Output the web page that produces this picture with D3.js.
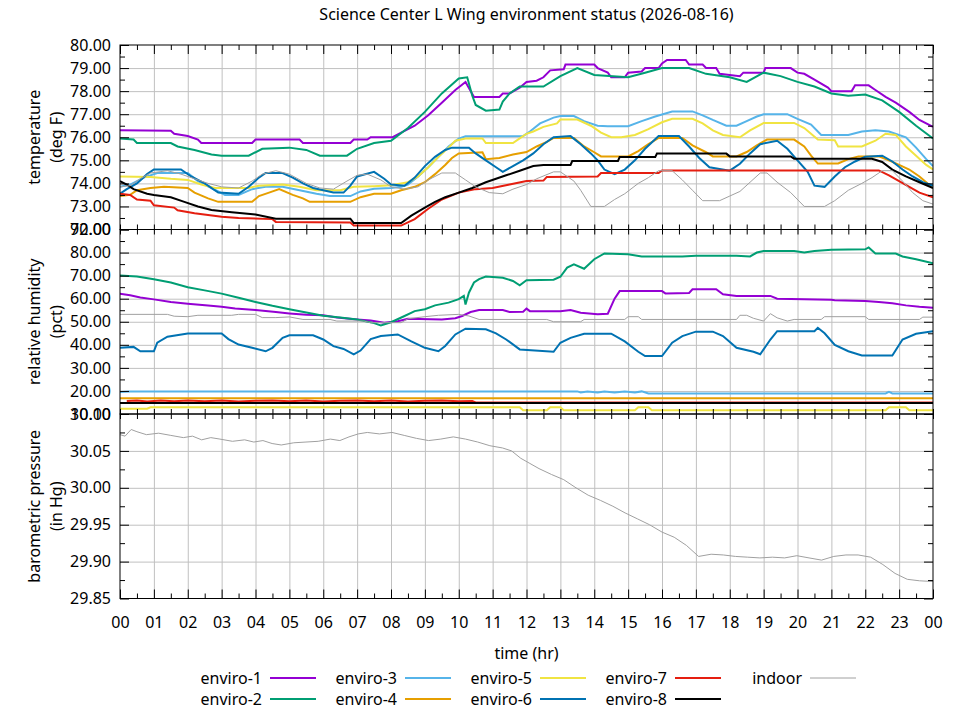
<!DOCTYPE html>
<html>
<head>
<meta charset="utf-8">
<script src="https://cdn.jsdelivr.net/npm/d3@7"></script>
<style>
  body { margin: 0; background: #fff; }
  svg { font-family: "Noto Sans", sans-serif; }
</style>
</head>
<body>
<svg id="drawing_region"></svg>
<script>
// ---- data: [hour, value] pairs ----
const titleText = "Science Center L Wing environment status (2026-08-16)";
const seriesNames = ["enviro-1","enviro-2","enviro-3","enviro-4","enviro-5","enviro-6","enviro-7","enviro-8","indoor"];
const seriesColors = ["#9400d3","#009e73","#56b4e9","#e69f00","#f0e442","#0072b2","#e51e10","#000000","#a0a0a0"];

const hourTicks = [0,1,2,3,4,5,6,7,8,9,10,11,12,13,14,15,16,17,18,19,20,21,22,23,24];
const tempTicks = [72,73,74,75,76,77,78,79,80];
const humidTicks = [10,20,30,40,50,60,70,80,90];
const pressTicks = [29.85,29.90,29.95,30.00,30.05,30.10];

// temperature (deg F)
const temp1 = [[0,76.3],[1.5,76.28],[1.6,76.15],[2.0,76.05],[2.3,75.9],[2.4,75.75],[3.9,75.75],[4.0,75.9],[5.3,75.9],[5.4,75.75],[6.8,75.75],[6.9,75.9],[7.3,75.9],[7.4,76.0],[8.05,76.0],[8.3,76.2],[8.7,76.5],[9.1,76.95],[9.5,77.5],[9.9,78.05],[10.2,78.4],[10.35,78.0],[10.45,77.75],[11.2,77.75],[11.3,77.9],[11.5,77.9],[11.8,78.15],[12.0,78.4],[12.3,78.45],[12.5,78.6],[12.7,78.9],[13.1,78.95],[13.15,79.15],[14.0,79.15],[14.1,79.0],[14.4,78.8],[14.5,78.6],[14.9,78.6],[15.0,78.8],[15.4,78.85],[15.5,79.0],[15.9,79.0],[16.0,79.2],[16.15,79.35],[16.7,79.35],[16.8,79.15],[17.2,79.15],[17.3,79.0],[17.6,79.0],[17.7,78.75],[18.3,78.65],[18.4,78.8],[19.0,78.8],[19.05,79.0],[19.8,79.0],[20.0,78.8],[20.2,78.75],[20.5,78.5],[20.9,78.15],[21.0,78.0],[21.6,78.0],[21.7,78.25],[22.1,78.25],[22.3,78.05],[22.6,77.75],[22.9,77.5],[23.3,77.1],[23.6,76.75],[24,76.45]];
const temp2 = [[0,75.95],[0.4,75.9],[0.5,75.75],[1.5,75.75],[1.7,75.6],[2.2,75.45],[2.7,75.25],[3.0,75.2],[3.8,75.2],[4.2,75.5],[5.0,75.55],[5.5,75.45],[5.9,75.2],[6.7,75.2],[7.0,75.5],[7.5,75.75],[8.0,75.85],[8.5,76.4],[9.0,77.1],[9.5,77.9],[10.0,78.55],[10.25,78.6],[10.4,77.8],[10.5,77.4],[10.8,77.15],[11.2,77.2],[11.3,77.55],[11.5,77.9],[11.8,78.2],[12.5,78.2],[13.0,78.65],[13.5,79.0],[14.0,78.7],[15.0,78.6],[15.5,78.8],[16.0,79.0],[16.8,79.0],[17.3,78.75],[18.0,78.6],[18.5,78.4],[19.0,78.8],[19.5,78.65],[20.0,78.4],[20.5,78.2],[21.0,77.9],[21.5,77.8],[22.0,77.85],[22.5,77.6],[23.0,77.1],[23.5,76.5],[24,75.95]];
const temp3 = [[0,73.85],[0.3,73.95],[0.7,74.25],[1.1,74.45],[2.0,74.45],[2.3,74.1],[2.7,73.8],[3.1,73.5],[3.5,73.5],[3.9,73.75],[4.3,73.85],[4.8,73.85],[5.3,73.7],[5.8,73.55],[6.2,73.45],[6.8,73.45],[7.1,73.65],[7.5,73.77],[8.0,73.8],[8.3,73.85],[8.5,73.95],[8.8,74.3],[9.1,74.7],[9.4,75.15],[9.7,75.6],[10.0,75.94],[10.2,76.04],[11.9,76.05],[12.1,76.25],[12.4,76.6],[12.8,76.85],[13.0,76.92],[13.4,76.92],[13.7,76.7],[14.1,76.5],[14.4,76.48],[15.0,76.48],[15.4,76.7],[15.8,76.9],[16.3,77.12],[16.9,77.12],[17.2,76.95],[17.5,76.75],[17.9,76.5],[18.2,76.5],[18.5,76.7],[18.8,76.9],[19.0,77.0],[19.7,77.0],[20.0,76.8],[20.4,76.55],[20.7,76.1],[21.5,76.1],[21.9,76.25],[22.3,76.3],[22.7,76.25],[23.2,76.0],[23.5,75.55],[23.8,75.05],[24,74.75]];
const temp4 = [[0,73.45],[0.3,73.5],[0.5,73.7],[0.9,73.8],[1.3,73.85],[2.0,73.8],[2.2,73.6],[2.6,73.35],[2.9,73.2],[3.9,73.2],[4.1,73.45],[4.4,73.6],[4.7,73.75],[5.1,73.5],[5.4,73.35],[5.6,73.2],[6.8,73.2],[7.1,73.4],[7.5,73.55],[8.0,73.55],[8.3,73.7],[8.7,73.85],[9.0,74.05],[9.3,74.4],[9.6,74.8],[9.8,75.1],[10.0,75.3],[10.7,75.35],[10.8,75.05],[11.2,75.1],[11.6,75.25],[12.0,75.36],[12.3,75.6],[12.6,75.8],[12.8,75.97],[13.4,75.97],[13.7,75.6],[14.0,75.35],[14.2,75.17],[15.0,75.17],[15.3,75.4],[15.6,75.7],[15.9,75.97],[16.6,75.97],[16.9,75.65],[17.3,75.35],[17.5,75.17],[18.2,75.17],[18.5,75.36],[18.8,75.65],[19.1,75.9],[19.9,75.9],[20.2,75.6],[20.4,75.2],[20.6,74.86],[21.2,74.86],[21.5,75.05],[21.8,75.17],[22.4,75.17],[22.7,75.0],[23.0,74.8],[23.3,74.6],[23.6,74.3],[24,73.8]];
const temp5 = [[0,74.3],[0.9,74.28],[1.5,74.2],[2.0,74.15],[2.4,73.95],[2.8,73.8],[3.8,73.8],[4.1,73.9],[4.8,73.95],[5.3,73.85],[5.8,73.7],[6.5,73.7],[6.9,73.85],[7.5,73.88],[8.0,73.92],[8.5,74.05],[8.8,74.3],[9.1,74.7],[9.4,75.15],[9.7,75.55],[9.9,75.85],[10.2,75.95],[10.7,75.95],[10.8,75.75],[11.6,75.75],[11.8,75.95],[12.0,76.15],[12.2,76.25],[12.5,76.45],[12.9,76.6],[13.0,76.77],[13.5,76.77],[13.9,76.5],[14.2,76.2],[14.5,76.0],[14.8,76.0],[15.2,76.1],[15.6,76.35],[16.0,76.65],[16.3,76.8],[16.9,76.8],[17.2,76.6],[17.5,76.3],[17.8,76.1],[18.3,76.0],[18.6,76.3],[19.0,76.62],[19.9,76.62],[20.2,76.4],[20.6,75.9],[21.1,75.87],[21.2,75.6],[21.9,75.6],[22.3,75.85],[22.6,76.15],[22.9,76.1],[23.2,75.6],[23.5,75.2],[23.8,74.8],[24,74.6]];
const temp6 = [[0,73.55],[0.2,73.75],[0.5,74.0],[0.8,74.4],[1.0,74.6],[1.8,74.6],[2.1,74.3],[2.5,74.0],[2.9,73.6],[3.5,73.55],[3.8,73.85],[4.1,74.25],[4.3,74.45],[4.8,74.45],[5.1,74.25],[5.4,74.0],[5.7,73.8],[6.3,73.6],[6.6,73.6],[6.8,73.9],[7.0,74.3],[7.5,74.5],[7.8,74.2],[8.0,73.95],[8.4,73.9],[8.7,74.25],[9.0,74.75],[9.3,75.15],[9.6,75.45],[9.8,75.55],[10.3,75.55],[10.5,75.3],[10.8,75.0],[11.1,74.7],[11.3,74.5],[11.6,74.75],[11.9,75.0],[12.2,75.3],[12.5,75.7],[12.8,76.0],[13.3,76.05],[13.6,75.7],[13.9,75.3],[14.1,75.0],[14.3,74.6],[14.6,74.4],[14.9,74.6],[15.2,75.0],[15.5,75.5],[15.9,76.05],[16.5,76.05],[16.8,75.6],[17.1,75.1],[17.4,74.7],[18.0,74.55],[18.3,74.85],[18.6,75.3],[18.9,75.7],[19.4,75.85],[19.7,75.5],[20.0,75.0],[20.3,74.5],[20.5,73.9],[20.8,73.85],[21.1,74.3],[21.4,74.7],[21.7,74.95],[22.0,75.15],[22.5,75.2],[22.8,74.95],[23.1,74.6],[23.4,74.3],[23.7,74.05],[24,73.9]];
const temp7 = [[0,73.55],[0.3,73.5],[0.5,73.3],[0.9,73.25],[1.0,73.05],[1.6,72.95],[1.7,72.83],[2.2,72.7],[3.0,72.55],[3.5,72.5],[4.5,72.45],[4.6,72.33],[6.8,72.3],[6.9,72.17],[8.3,72.17],[8.7,72.45],[9.1,72.9],[9.5,73.3],[10.0,73.6],[10.5,73.75],[11.0,73.8],[11.5,73.95],[12.0,74.1],[12.5,74.12],[12.6,74.28],[14.1,74.3],[14.2,74.45],[15.9,74.45],[16.0,74.56],[22.4,74.56],[22.7,74.35],[23.0,74.1],[23.3,73.85],[23.6,73.6],[24,73.4]];
const temp8 = [[0,74.1],[0.2,73.95],[0.4,73.75],[0.8,73.55],[1.0,73.5],[1.5,73.4],[1.9,73.2],[2.3,73.0],[2.7,72.85],[3.3,72.75],[4.0,72.65],[4.6,72.47],[6.8,72.47],[6.9,72.28],[8.3,72.28],[8.6,72.6],[9.0,72.95],[9.3,73.2],[9.6,73.4],[10.0,73.6],[10.4,73.8],[10.8,74.05],[11.1,74.2],[11.4,74.35],[11.8,74.55],[12.2,74.75],[12.5,74.8],[13.3,74.8],[13.35,74.97],[14.7,74.97],[14.75,75.14],[15.8,75.14],[15.85,75.29],[17.9,75.29],[18.0,75.17],[19.8,75.17],[19.9,75.07],[22.2,75.07],[22.5,74.93],[22.8,74.6],[23.2,74.3],[23.6,74.05],[24,73.8]];
const tempIndoor = [[0,73.85],[0.3,73.9],[0.6,74.2],[0.9,74.45],[1.4,74.55],[1.8,74.4],[2.2,74.2],[2.6,74.0],[3.0,73.85],[3.5,73.8],[3.9,74.1],[4.2,74.4],[4.6,74.55],[5.0,74.4],[5.5,74.0],[5.9,73.8],[6.3,73.75],[6.7,74.1],[7.0,74.35],[7.3,74.4],[7.7,74.15],[8.0,73.85],[8.4,73.75],[8.8,73.85],[9.1,74.15],[9.5,74.45],[9.9,74.45],[10.2,74.15],[10.5,73.85],[10.9,73.6],[11.3,73.55],[11.6,73.75],[12.0,73.95],[12.3,74.2],[12.8,74.5],[13.0,74.5],[13.4,74.1],[13.6,73.7],[13.9,73.0],[14.3,73.0],[14.6,73.3],[14.9,73.55],[15.3,74.0],[15.6,74.25],[15.9,74.55],[16.3,74.55],[16.6,74.15],[16.9,73.7],[17.2,73.25],[17.7,73.25],[18.0,73.45],[18.3,73.65],[18.6,74.05],[18.9,74.45],[19.1,74.45],[19.4,74.05],[19.8,73.6],[20.2,73.0],[20.8,73.0],[21.1,73.25],[21.5,73.7],[21.9,74.0],[22.2,74.25],[22.5,74.55],[22.8,74.55],[23.1,74.1],[23.4,73.6],[23.7,73.25],[24,73.1]];

// relative humidity (pct)
const humid1 = [[0,62.2],[0.3,61.5],[0.6,60.5],[1.0,59.7],[1.5,58.6],[2.0,57.8],[2.6,57.0],[3.0,56.5],[3.4,55.7],[4.0,55.1],[4.6,54.2],[5.0,53.6],[5.5,53.0],[6.0,52.8],[6.4,51.8],[7.0,51.0],[7.4,50.5],[7.8,49.6],[8.2,50.2],[8.5,51.3],[9.5,51.0],[9.9,51.5],[10.1,52.5],[10.35,54.2],[10.6,55.1],[11.3,55.1],[11.5,54.2],[11.9,54.3],[12.0,55.7],[12.1,54.6],[13.0,54.6],[13.3,55.1],[13.6,53.9],[14.1,53.2],[14.4,53.5],[14.6,60.0],[14.75,63.3],[16.0,63.3],[16.1,62.3],[16.8,62.5],[16.9,64.1],[17.6,64.1],[17.8,61.9],[18.2,61.2],[19.2,61.2],[19.4,60.0],[20.6,59.7],[21.0,59.5],[21.1,59.3],[22.0,59.0],[22.4,58.6],[22.8,58.0],[23.2,57.1],[23.6,56.5],[24,56.1]];
const humid2 = [[0,70.1],[0.5,69.6],[1.0,68.4],[1.5,67.0],[2.0,65.0],[2.5,63.6],[3.0,62.2],[3.5,60.4],[4.0,58.6],[4.5,56.9],[5.0,55.4],[5.5,54.0],[6.0,52.6],[6.5,51.8],[7.0,51.0],[7.5,49.4],[7.7,48.4],[8.0,49.8],[8.4,52.5],[8.7,54.6],[9.0,55.4],[9.3,57.1],[9.7,58.3],[10.0,59.8],[10.15,61.2],[10.2,57.5],[10.3,62.6],[10.45,67.0],[10.6,68.5],[10.8,69.6],[11.3,69.1],[11.6,67.7],[11.8,65.8],[12.0,68.0],[12.8,68.2],[13.0,69.5],[13.2,73.5],[13.4,74.9],[13.7,73.0],[14.0,77.1],[14.3,79.6],[15.0,79.3],[15.4,78.3],[16.6,78.3],[17.0,78.6],[18.2,78.6],[18.6,78.3],[18.8,80.0],[19.0,80.7],[19.9,80.7],[20.2,80.0],[20.5,80.7],[21.0,81.2],[22.0,81.4],[22.1,82.2],[22.3,79.6],[22.9,79.6],[23.1,78.3],[23.5,77.1],[24,75.4]];
const humid3 = [[0,19.5],[0.3,19.8],[13.5,19.8],[13.6,19.3],[13.8,19.8],[14.1,19.3],[14.3,19.8],[14.6,19.3],[14.9,19.8],[15.2,19.3],[15.4,19.8],[15.6,18.9],[22.6,18.9],[22.7,19.6],[22.8,18.9],[24,18.9]];
const humid4 = [[0,16.8],[12,16.8],[24,16.8]];
const humid5 = [[0,12.3],[0.8,12.3],[0.9,12.9],[11.8,12.9],[11.9,11.6],[12.6,11.6],[12.7,12.9],[13.0,12.9],[13.1,11.6],[15.2,11.6],[15.3,12.9],[15.6,12.9],[15.7,11.6],[22.6,11.6],[22.7,12.9],[23.2,12.9],[23.3,11.6],[24,11.6]];
const humid6 = [[0,38.7],[0.4,39.1],[0.6,37.2],[1.0,37.2],[1.1,40.9],[1.4,43.5],[2.0,44.9],[3.0,44.9],[3.2,42.5],[3.5,40.1],[3.9,38.7],[4.3,37.2],[4.5,38.7],[4.8,43.0],[5.0,44.1],[5.7,44.1],[6.0,42.3],[6.3,39.4],[6.6,38.2],[6.9,35.9],[7.1,37.5],[7.4,42.5],[7.7,43.8],[8.2,44.5],[8.6,41.5],[9.0,38.7],[9.4,37.2],[9.6,39.5],[9.9,44.5],[10.2,47.0],[10.8,46.7],[11.1,45.0],[11.4,42.3],[11.8,38.0],[12.8,37.0],[13.0,40.9],[13.3,43.0],[13.7,44.8],[14.5,44.8],[14.9,41.5],[15.3,37.0],[15.5,35.1],[16.0,35.1],[16.3,40.9],[16.6,43.8],[17.0,45.7],[17.5,45.7],[17.8,43.8],[18.2,38.7],[18.7,37.0],[18.9,35.9],[19.2,42.3],[19.4,45.9],[20.5,45.9],[20.6,47.4],[20.8,45.0],[21.1,40.0],[21.5,37.2],[21.9,35.4],[22.8,35.4],[23.1,42.3],[23.5,44.8],[24,45.9]];
const humid7 = [[0.2,15.6],[0.5,15.9],[0.8,15.4],[1.2,15.8],[1.6,15.5],[2.0,15.9],[2.5,15.5],[3.0,15.8],[3.5,15.4],[4.0,15.7],[4.5,15.9],[5.0,15.5],[5.5,15.8],[6.0,15.4],[6.5,15.7],[7.0,15.9],[7.5,15.5],[8.0,15.8],[8.5,15.4],[9.0,15.7],[9.5,15.9],[10.0,15.5],[10.4,15.6],[10.5,15.0],[24,15.0]];
const humid8 = [[0,14.8],[12,14.8],[24,14.8]];
const humidIndoor = [[0,53.2],[1.4,53.2],[1.6,52.4],[2.0,52.2],[2.3,52.8],[3.3,52.8],[3.5,53.2],[4.0,53.2],[4.2,51.8],[4.6,51.8],[5.0,52.1],[5.4,51.0],[6.2,51.0],[6.4,50.3],[7.2,50.3],[7.4,49.6],[8.3,49.6],[8.5,51.3],[9.0,52.2],[9.4,52.8],[10.0,53.2],[10.3,52.5],[10.6,51.0],[12.6,51.0],[12.8,50.0],[13.6,50.0],[13.7,51.0],[14.9,51.0],[15.0,52.2],[15.3,52.2],[15.4,51.0],[18.2,51.0],[18.3,52.8],[18.5,52.8],[18.7,51.5],[19.0,50.3],[19.2,53.5],[19.4,51.7],[19.7,50.3],[19.9,51.0],[20.7,51.0],[20.8,52.2],[22.0,52.2],[22.1,51.0],[23.6,51.0],[23.7,52.0],[24,52.0]];

// barometric pressure (in Hg), indoor only
const pressIndoor = [[0,30.072],[0.15,30.070],[0.33,30.079],[0.5,30.076],[0.78,30.072],[1.14,30.074],[1.5,30.071],[1.87,30.068],[2.14,30.070],[2.41,30.065],[2.68,30.068],[2.95,30.066],[3.32,30.063],[3.68,30.065],[3.95,30.062],[4.22,30.064],[4.49,30.060],[4.76,30.058],[5.13,30.061],[5.49,30.062],[5.85,30.063],[6.21,30.066],[6.49,30.064],[6.76,30.069],[7.03,30.073],[7.3,30.075],[7.66,30.073],[8.03,30.075],[8.39,30.071],[8.75,30.067],[9.11,30.064],[9.47,30.066],[9.84,30.069],[10.2,30.066],[10.56,30.062],[10.92,30.057],[11.29,30.054],[11.56,30.050],[11.83,30.040],[12.1,30.033],[12.37,30.026],[12.74,30.018],[13.1,30.011],[13.46,30.000],[13.82,29.990],[14.18,29.983],[14.55,29.975],[14.91,29.966],[15.27,29.958],[15.63,29.950],[16.0,29.940],[16.36,29.933],[16.72,29.922],[17.08,29.907],[17.45,29.910],[17.81,29.909],[18.17,29.907],[18.53,29.906],[18.89,29.905],[19.26,29.906],[19.62,29.905],[19.98,29.908],[20.34,29.905],[20.71,29.902],[21.07,29.907],[21.43,29.909],[21.79,29.909],[22.16,29.906],[22.52,29.896],[22.88,29.884],[23.24,29.876],[23.6,29.874],[24,29.873]];

class StatusChart {
  constructor(config) {
    this.config = config;
    this.init();
  }

  init() {
    let self = this;
    self.svg = d3.select(self.config.parent)
      .attr('width', self.config.width)
      .attr('height', self.config.height);
    self.x = d3.scaleLinear().domain([0, 24])
      .range([self.config.left, self.config.right]);
  }

  styleAxis(g) {
    g.attr('font-family', null).attr('font-size', 16);
    g.select('.domain').remove();
    g.selectAll('.tick line').attr('stroke', '#000');
    g.selectAll('.tick text').attr('fill', '#000');
  }

  drawPanel(p, idx) {
    let self = this;
    const cfg = self.config;
    const top = cfg.top + idx * cfg.panelH;
    const bottom = top + cfg.panelH;
    const w = cfg.right - cfg.left;
    const y = d3.scaleLinear().domain([p.ticks[0], p.ticks[p.ticks.length - 1]])
      .range([bottom, top]);
    const minor = d3.range(p.ticks[0] + p.minorStep, p.ticks[p.ticks.length - 1], p.minorStep * 2);
    const halfHours = d3.range(0.5, 24, 1);
    const g = self.svg.append('g');

    // grid
    g.append('g').attr('transform', `translate(0,${bottom})`)
      .call(d3.axisBottom(self.x).tickValues(hourTicks.slice(1, -1)).tickSize(-cfg.panelH).tickFormat(''))
      .call(a => { a.select('.domain').remove(); a.selectAll('line').attr('stroke', '#c0c0c0'); });
    g.append('g').attr('transform', `translate(${cfg.left},0)`)
      .call(d3.axisLeft(y).tickValues(p.ticks.slice(1, -1)).tickSize(-w).tickFormat(''))
      .call(a => { a.select('.domain').remove(); a.selectAll('line').attr('stroke', '#c0c0c0'); });

    // lines
    const clipId = 'clip' + idx;
    g.append('clipPath').attr('id', clipId).append('rect')
      .attr('x', cfg.left).attr('y', top).attr('width', w).attr('height', cfg.panelH);
    const line = d3.line().x(d => self.x(d[0])).y(d => y(d[1]));
    g.append('g').attr('clip-path', `url(#${clipId})`)
      .selectAll('path').data(p.series).join('path')
      .attr('d', d => line(d.values))
      .attr('fill', 'none')
      .attr('stroke', d => d.color)
      .attr('stroke-width', d => d.name === 'indoor' ? 1 : 2)
      .attr('stroke-linejoin', 'miter');

    // border
    g.append('rect').attr('x', cfg.left).attr('y', top).attr('width', w).attr('height', cfg.panelH)
      .attr('fill', 'none').attr('stroke', '#000').attr('stroke-width', 1);

    // y ticks and labels
    g.append('g').attr('transform', `translate(${cfg.left},0)`)
      .call(d3.axisLeft(y).tickValues(p.ticks).tickSize(-9).tickPadding(9).tickFormat(d3.format('.2f')))
      .call(a => self.styleAxis(a));
    g.append('g').attr('transform', `translate(${cfg.left},0)`)
      .call(d3.axisLeft(y).tickValues(minor).tickSize(-5).tickFormat(''))
      .call(a => self.styleAxis(a));
    g.append('g').attr('transform', `translate(${cfg.right},0)`)
      .call(d3.axisRight(y).tickValues(p.ticks).tickSize(-9).tickFormat(''))
      .call(a => self.styleAxis(a));
    g.append('g').attr('transform', `translate(${cfg.right},0)`)
      .call(d3.axisRight(y).tickValues(minor).tickSize(-5).tickFormat(''))
      .call(a => self.styleAxis(a));

    // x ticks top and bottom
    const topLen = idx === 0 ? 9 : 5;
    const botLen = idx === 2 ? 9 : 5;
    g.append('g').attr('transform', `translate(0,${top})`)
      .call(d3.axisTop(self.x).tickValues(hourTicks).tickSize(-topLen).tickFormat(''))
      .call(a => self.styleAxis(a));
    g.append('g').attr('transform', `translate(0,${top})`)
      .call(d3.axisTop(self.x).tickValues(halfHours).tickSize(-5).tickFormat(''))
      .call(a => self.styleAxis(a));
    g.append('g').attr('transform', `translate(0,${bottom})`)
      .call(d3.axisBottom(self.x).tickValues(hourTicks).tickSize(-botLen).tickPadding(18)
        .tickFormat(idx === 2 ? (d => d3.format('02d')(d % 24)) : ''))
      .call(a => self.styleAxis(a));
    g.append('g').attr('transform', `translate(0,${bottom})`)
      .call(d3.axisBottom(self.x).tickValues(halfHours).tickSize(-5).tickFormat(''))
      .call(a => self.styleAxis(a));

    // y title
    const cy = (top + bottom) / 2;
    const t = g.append('text').attr('transform', `translate(0,${cy}) rotate(-90)`)
      .attr('text-anchor', 'middle').attr('font-size', 16).attr('fill', '#000');
    t.append('tspan').attr('x', 0).attr('y', 40).text(p.label[0]);
    t.append('tspan').attr('x', 0).attr('y', 62).text(p.label[1]);
  }

  render(panels) {
    let self = this;
    const cfg = self.config;
    panels.forEach((p, i) => self.drawPanel(p, i));

    self.svg.append('text')
      .attr('x', (cfg.left + cfg.right) / 2).attr('y', 20)
      .attr('text-anchor', 'middle').attr('font-size', 16)
      .text(titleText);

    self.svg.append('text')
      .attr('x', (cfg.left + cfg.right) / 2).attr('y', 659)
      .attr('text-anchor', 'middle').attr('font-size', 16)
      .text('time (hr)');

    // legend, column major, two rows
    const leg = self.svg.append('g');
    seriesNames.forEach((name, i) => {
      const col = Math.floor(i / 2), row = i % 2;
      const lx = 262 + col * 135, ly = 678 + row * 21;
      leg.append('text').attr('x', lx).attr('y', ly + 5.5)
        .attr('text-anchor', 'end').attr('font-size', 16).text(name);
      leg.append('line').attr('x1', lx + 8).attr('x2', lx + 54)
        .attr('y1', ly).attr('y2', ly)
        .attr('stroke', seriesColors[i])
        .attr('stroke-width', name === 'indoor' ? 1 : 2);
    });
  }
}

const makeSeries = list => list.map((values, i) => ({
  name: seriesNames[i], color: seriesColors[i], values: values
}));

const panels = [
  { label: ['temperature', '(deg F)'], ticks: tempTicks, minorStep: 0.5,
    series: makeSeries([temp1, temp2, temp3, temp4, temp5, temp6, temp7, temp8, tempIndoor]) },
  { label: ['relative humidity', '(pct)'], ticks: humidTicks, minorStep: 5,
    series: makeSeries([humid1, humid2, humid3, humid4, humid5, humid6, humid7, humid8, humidIndoor]) },
  { label: ['barometric pressure', '(in Hg)'], ticks: pressTicks, minorStep: 0.025,
    series: [{ name: 'indoor', color: seriesColors[8], values: pressIndoor }] }
];

const chart = new StatusChart({
  parent: '#drawing_region',
  width: 960, height: 720,
  left: 120, right: 933, top: 45, panelH: 184.5
});
chart.render(panels);
</script>
</body>
</html>
